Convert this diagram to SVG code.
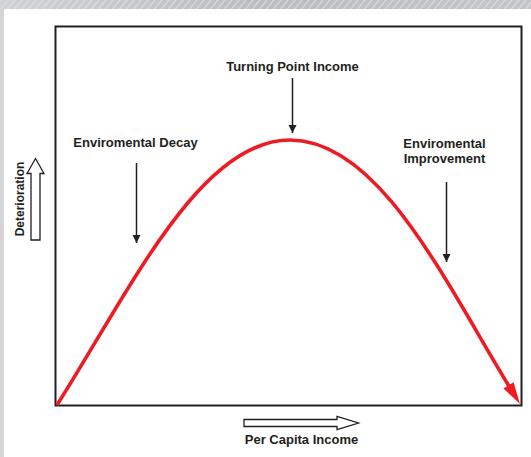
<svg xmlns="http://www.w3.org/2000/svg" width="531" height="457" viewBox="0 0 531 457">
  <defs>
    <linearGradient id="band" x1="0" y1="0" x2="1" y2="0">
      <stop offset="0" stop-color="#cfd2d5"/>
      <stop offset="0.5" stop-color="#b9bdc1"/>
      <stop offset="1" stop-color="#c3c6c9"/>
    </linearGradient>
    <pattern id="stripes" width="7" height="9" patternUnits="userSpaceOnUse" patternTransform="skewX(-40)">
      <rect x="0" y="0" width="2" height="9" fill="#e4e6e8" opacity="0.55"/>
    </pattern>
    <marker id="ah" markerWidth="8" markerHeight="10" refX="8" refY="5" orient="auto" markerUnits="userSpaceOnUse">
      <path d="M0,1 L8,5 L0,9 z" fill="#231f20"/>
    </marker>
    <style>
      .lbl { font-family: "Liberation Sans", Arial, sans-serif; font-weight: bold; font-size: 13px; fill: #231f20; }
      .ptr { stroke: #231f20; stroke-width: 1.5; fill: none; }
      .hollow { fill: #ffffff; stroke: #231f20; stroke-width: 1.3; stroke-linejoin: miter; }
    </style>
  </defs>

  <!-- background -->
  <rect x="0" y="0" width="531" height="457" fill="#ffffff"/>
  <rect x="0" y="0" width="531" height="9" fill="url(#band)"/>
  <rect x="0" y="0" width="531" height="9" fill="url(#stripes)"/>
  <rect x="0" y="9" width="4" height="448" fill="#d3d5d7"/>

  <!-- frame -->
  <g id="frame">
    <rect x="55.5" y="26.5" width="466" height="379" fill="none" stroke="#231f20" stroke-width="2"/>
  </g>

  <!-- curve -->
  <g id="curve">
    <path d="M57,405 C130,290 200,140 290,140 C380,140 446,284 512,391" fill="none" stroke="#ed1c24" stroke-width="3.6" stroke-linecap="butt"/>
    <polygon points="520,404 513.6,382.2 503.4,388.4" fill="#ed1c24"/>
  </g>

  <!-- axes arrows -->
  <g id="y-axis">
    <polygon class="hollow" points="31,240 40,240 40,173.5 44,173.5 35.5,158.5 27,173.5 31,173.5"/>
    <text class="lbl" transform="translate(23.5,199) rotate(-90)" text-anchor="middle" style="font-size:12px">Deterioration</text>
  </g>
  <g id="x-axis">
    <polygon class="hollow" points="244,419.5 244,426.5 337,426.5 337,429.5 358.5,423 337,416.5 337,419.5"/>
    <text class="lbl" x="301.5" y="443.5" text-anchor="middle">Per Capita Income</text>
  </g>

  <!-- labels -->
  <g id="turning-point">
    <text class="lbl" x="292.5" y="71" text-anchor="middle">Turning Point Income</text>
  </g>
  <g id="decay">
    <text class="lbl" x="135.5" y="147" text-anchor="middle">Enviromental Decay</text>
  </g>
  <g id="improvement">
    <text class="lbl" x="444.5" y="147.5" text-anchor="middle">Enviromental</text>
    <text class="lbl" x="444.5" y="163" text-anchor="middle">Improvement</text>
  </g>

  <!-- connectors -->
  <g id="connectors">
    <line class="ptr" x1="292.5" y1="78" x2="292.5" y2="133" marker-end="url(#ah)"/>
    <line class="ptr" x1="136.5" y1="163" x2="136.5" y2="243" marker-end="url(#ah)"/>
    <line class="ptr" x1="446.5" y1="182" x2="446.5" y2="262" marker-end="url(#ah)"/>
  </g>
</svg>
